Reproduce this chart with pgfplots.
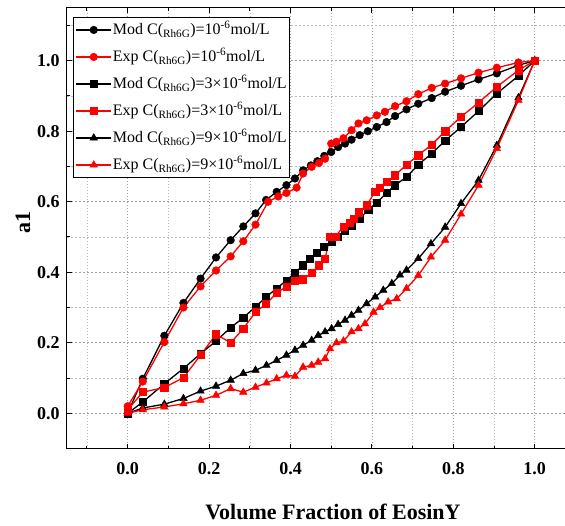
\documentclass[border=0pt]{standalone}
\usepackage{pgfplots}
\pgfplotsset{compat=1.18}
\usepackage{fontspec}
\setmainfont{Liberation Serif}
\begin{document}
\begin{tikzpicture}
\useasboundingbox (-66.65pt,-76.44pt) rectangle (498.35pt,448.56pt);
\begin{axis}[
  scale only axis,
  width=508.75pt, height=440.75pt,
  xmin=-0.15, xmax=1.1, ymin=-0.1, ymax=1.15,
  xtick={0,0.2,0.4,0.6,0.8,1.0},
  ytick={0,0.2,0.4,0.6,0.8,1.0},
  minor xtick={-0.1,0.1,0.3,0.5,0.7,0.9,1.1},
  minor ytick={0.1,0.3,0.5,0.7,0.9,1.1},
  tick align=inside, xtick pos=both, ytick pos=both,
  major tick length=5pt, minor tick length=3pt,
  every tick/.style={black, line width=1pt},
  axis line style={line width=1.3pt},
  grid=both,
  major x grid style={gray!75, line width=0.6pt, dash pattern=on 1pt off 2pt},
  minor x grid style={gray!55, line width=0.6pt, dash pattern=on 1pt off 2pt},
  major y grid style={gray!75, line width=0.6pt, dash pattern=on 2pt off 2pt},
  minor y grid style={gray!55, line width=0.6pt, dash pattern=on 2pt off 2pt},
  xticklabel style={font=\fontsize{18}{18}\selectfont\bfseries, yshift=-10pt,
    /pgf/number format/.cd, fixed, fixed zerofill, precision=1, assume math mode=true},
  yticklabel style={font=\fontsize{18}{18}\selectfont\bfseries, xshift=-3.5pt,
    /pgf/number format/.cd, fixed, fixed zerofill, precision=1, assume math mode=true},
  xlabel={Volume Fraction of EosinY},
  ylabel={a1},
  xlabel style={font=\fontsize{22}{22}\selectfont\bfseries, at={(axis description cs:0.5235,-0.16)}, anchor=base},
  ylabel style={font=\fontsize{22}{22}\selectfont\bfseries, at={(axis description cs:-0.0858,0.512)}, anchor=center},
  legend style={at={(axis description cs:0.0125,0.979)}, anchor=north west,
    draw=black, line width=1.2pt, fill=white,
    font=\fontsize{16}{16}\selectfont,
    inner xsep=2pt, inner ysep=3.8pt, row sep=10pt,
    nodes={inner xsep=1pt, inner ysep=0pt, text height=13pt, text depth=4pt},
    /tikz/every even column/.append style={column sep=2pt}},
  legend cell align=left,
  legend image code/.code={\draw[mark repeat=2,mark phase=2] plot coordinates {(0pt,0pt)(17.5pt,0pt)(35pt,0pt)};},
  every axis plot/.append style={line width=1.3pt},
]
\addplot[black, mark=*, mark size=3.8pt, mark options={solid, line width=0.5pt}] table {
0 0
0.037 0.098
0.09 0.22
0.137 0.313
0.179 0.382
0.217 0.442
0.253 0.491
0.284 0.53
0.314 0.567
0.34 0.605
0.366 0.628
0.39 0.647
0.411 0.666
0.431 0.689
0.45 0.703
0.466 0.715
0.483 0.73
0.5 0.741
0.517 0.755
0.534 0.765
0.55 0.776
0.57 0.789
0.59 0.80
0.612 0.812
0.636 0.826
0.657 0.843
0.685 0.862
0.714 0.878
0.747 0.894
0.78 0.912
0.819 0.929
0.862 0.947
0.907 0.964
0.96 0.987
1 1
};
\addlegendentry{Mod C(\textsubscript{Rh6G})=10\textsuperscript{-6}mol/L}
\addplot[red, mark=*, mark size=3.8pt, mark options={solid, line width=0.5pt}] table {
0 0.02
0.037 0.09
0.09 0.202
0.137 0.30
0.179 0.36
0.217 0.405
0.253 0.445
0.284 0.488
0.314 0.535
0.345 0.60
0.37 0.615
0.39 0.625
0.415 0.64
0.431 0.68
0.452 0.699
0.47 0.71
0.485 0.722
0.5 0.765
0.513 0.77
0.53 0.78
0.55 0.803
0.567 0.822
0.587 0.831
0.612 0.845
0.632 0.855
0.657 0.871
0.685 0.885
0.714 0.905
0.747 0.923
0.78 0.935
0.819 0.95
0.862 0.966
0.907 0.98
0.96 0.995
1 1
};
\addlegendentry{Exp C(\textsubscript{Rh6G})=10\textsuperscript{-6}mol/L}
\addplot[black, mark=square*, mark size=3.6pt, mark options={solid, line width=0.5pt}] table {
0 0
0.037 0.032
0.09 0.084
0.137 0.127
0.179 0.169
0.217 0.205
0.253 0.243
0.284 0.271
0.314 0.302
0.34 0.33
0.366 0.354
0.39 0.377
0.411 0.398
0.431 0.42
0.448 0.439
0.464 0.455
0.481 0.472
0.501 0.486
0.517 0.50
0.534 0.519
0.55 0.533
0.571 0.552
0.591 0.578
0.612 0.597
0.636 0.625
0.657 0.647
0.685 0.67
0.714 0.705
0.747 0.737
0.78 0.773
0.819 0.812
0.862 0.857
0.907 0.907
0.96 0.957
1 1
};
\addlegendentry{Mod C(\textsubscript{Rh6G})=3×10\textsuperscript{-6}mol/L}
\addplot[red, mark=square*, mark size=3.6pt, mark options={solid, line width=0.5pt}] table {
0 0.01
0.037 0.06
0.09 0.073
0.137 0.101
0.179 0.165
0.217 0.224
0.253 0.20
0.284 0.24
0.314 0.287
0.34 0.31
0.366 0.341
0.39 0.36
0.411 0.377
0.431 0.38
0.452 0.398
0.47 0.42
0.485 0.439
0.497 0.50
0.51 0.50
0.53 0.53
0.545 0.54
0.555 0.552
0.567 0.57
0.587 0.59
0.608 0.628
0.62 0.64
0.636 0.656
0.657 0.675
0.685 0.705
0.714 0.732
0.747 0.762
0.78 0.80
0.819 0.841
0.862 0.881
0.907 0.926
0.96 0.973
1 1
};
\addlegendentry{Exp C(\textsubscript{Rh6G})=3×10\textsuperscript{-6}mol/L}
\addplot[black, mark=triangle*, mark size=4.3pt, mark options={solid, line width=0.5pt}] table {
0 0
0.037 0.015
0.09 0.026
0.137 0.042
0.179 0.063
0.217 0.077
0.253 0.094
0.284 0.113
0.314 0.122
0.341 0.136
0.366 0.15
0.39 0.165
0.411 0.179
0.431 0.193
0.452 0.207
0.468 0.221
0.485 0.231
0.501 0.24
0.517 0.252
0.534 0.264
0.55 0.278
0.567 0.292
0.587 0.311
0.608 0.33
0.628 0.349
0.649 0.368
0.669 0.392
0.685 0.406
0.714 0.439
0.745 0.481
0.78 0.528
0.819 0.595
0.862 0.661
0.907 0.76
0.96 0.895
1 1
};
\addlegendentry{Mod C(\textsubscript{Rh6G})=9×10\textsuperscript{-6}mol/L}
\addplot[red, mark=triangle*, mark size=4.3pt, mark options={solid, line width=0.5pt}] table {
0 0
0.037 0.01
0.09 0.018
0.137 0.027
0.179 0.037
0.217 0.051
0.253 0.07
0.284 0.06
0.314 0.074
0.341 0.086
0.366 0.098
0.39 0.108
0.411 0.105
0.431 0.131
0.452 0.136
0.468 0.145
0.485 0.155
0.497 0.183
0.513 0.20
0.53 0.205
0.55 0.231
0.567 0.24
0.583 0.254
0.604 0.287
0.62 0.30
0.64 0.316
0.661 0.325
0.685 0.354
0.714 0.391
0.745 0.443
0.78 0.491
0.819 0.565
0.862 0.647
0.907 0.751
0.96 0.888
1 1
};
\addlegendentry{Exp C(\textsubscript{Rh6G})=9×10\textsuperscript{-6}mol/L}
\end{axis}
\end{tikzpicture}
\end{document}
